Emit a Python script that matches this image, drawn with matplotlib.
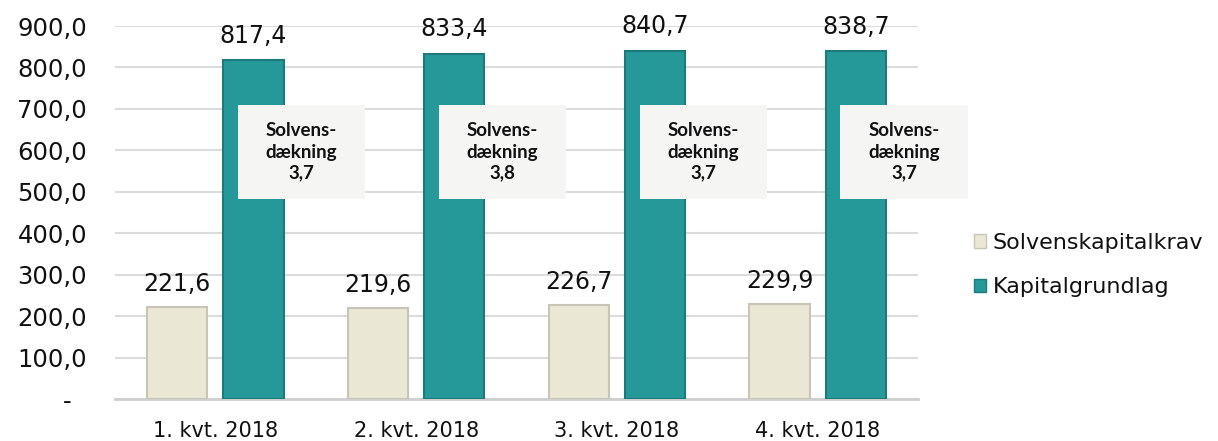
# Solvency capital requirement vs. own funds per quarter, 2018.

import numpy as np
import matplotlib.pyplot as plt
from matplotlib.patches import Patch, Rectangle

plt.rcParams['font.family'] = ['DejaVu Sans']

# Data.
quarters = ['1. kvt. 2018', '2. kvt. 2018', '3. kvt. 2018', '4. kvt. 2018']
solvenskapitalkrav = [221.6, 219.6, 226.7, 229.9]
kapitalgrundlag = [817.4, 833.4, 840.7, 838.7]
solvensdaekning = ['3,7', '3,8', '3,7', '3,7']
y_ticks = [0, 100, 200, 300, 400, 500, 600, 700, 800, 900]

beige = '#ebe7d5'
beige_edge = '#c9c5b6'
teal = '#25999a'
teal_edge = '#1c7a7b'
text_col = '#111111'

# Figure and axes.
fig = plt.figure(figsize=(12.18, 4.41), dpi=100)
ax = fig.add_axes([0.0944, 0.0952, 0.6593, 0.8458])

x = np.arange(len(quarters))
w = 0.30
off = 0.19

ax.bar(x - off, solvenskapitalkrav, w, color=beige, edgecolor=beige_edge,
       linewidth=1.5, zorder=3)
ax.bar(x + off, kapitalgrundlag, w, color=teal, edgecolor=teal_edge,
       linewidth=1.5, zorder=3)

# Value labels.
for xi, v in zip(x - off, solvenskapitalkrav):
    ax.annotate(f'{v:.1f}'.replace('.', ','), xy=(xi, v), xytext=(0, 8),
                textcoords='offset points', ha='center', va='bottom',
                fontsize=17, color=text_col)
for xi, v in zip(x + off, kapitalgrundlag):
    ax.annotate(f'{v:.1f}'.replace('.', ','), xy=(xi, v), xytext=(0, 9),
                textcoords='offset points', ha='center', va='bottom',
                fontsize=17, color=text_col)

# Solvency coverage boxes.
for xi, s in zip(x, solvensdaekning):
    ax.add_patch(Rectangle((xi + 0.43 - 0.317, 596 - 113), 0.634, 226,
                           facecolor='#f5f5f3', edgecolor='none', zorder=4,
                           clip_on=False))
    ax.text(xi + 0.43, 596, 'Solvens-\ndækning\n' + s, ha='center', va='center',
            fontsize=13.5, fontweight='bold', family=['Lato'],
            color=text_col, linespacing=1.3, zorder=5, clip_on=False)

# Axes styling.
ax.set_xlim(-0.5, len(quarters) - 0.5)
ax.set_ylim(0, 900)
ax.set_yticks(y_ticks)
ax.set_yticklabels(['-  '] + [f'{t:.1f}'.replace('.', ',') for t in y_ticks[1:]])
ax.set_xticks(x)
ax.set_xticklabels(quarters, fontsize=15)
ax.tick_params(axis='y', labelsize=17.5)
ax.tick_params(axis='both', length=0, colors=text_col)
ax.tick_params(axis='y', pad=20)
ax.tick_params(axis='x', pad=16)
ax.yaxis.grid(True, color='#dcdcdc', linewidth=1.5, zorder=0)
ax.set_axisbelow(True)
for sp in ['top', 'right', 'left']:
    ax.spines[sp].set_visible(False)
ax.spines['bottom'].set_color('#cfcfcf')
ax.spines['bottom'].set_linewidth(2)
ax.spines['bottom'].set_zorder(2)

# Legend.
handles = [Patch(facecolor=beige, edgecolor=beige_edge, label='Solvenskapitalkrav'),
           Patch(facecolor=teal, edgecolor=teal_edge, label='Kapitalgrundlag')]
fig.legend(handles=handles, loc='center left', bbox_to_anchor=(0.783, 0.399),
           frameon=False, fontsize=16, handlelength=0.55, handleheight=0.55,
           handletextpad=0.3, labelspacing=1.1, labelcolor=text_col)

fig.savefig('out.png', dpi=100)
